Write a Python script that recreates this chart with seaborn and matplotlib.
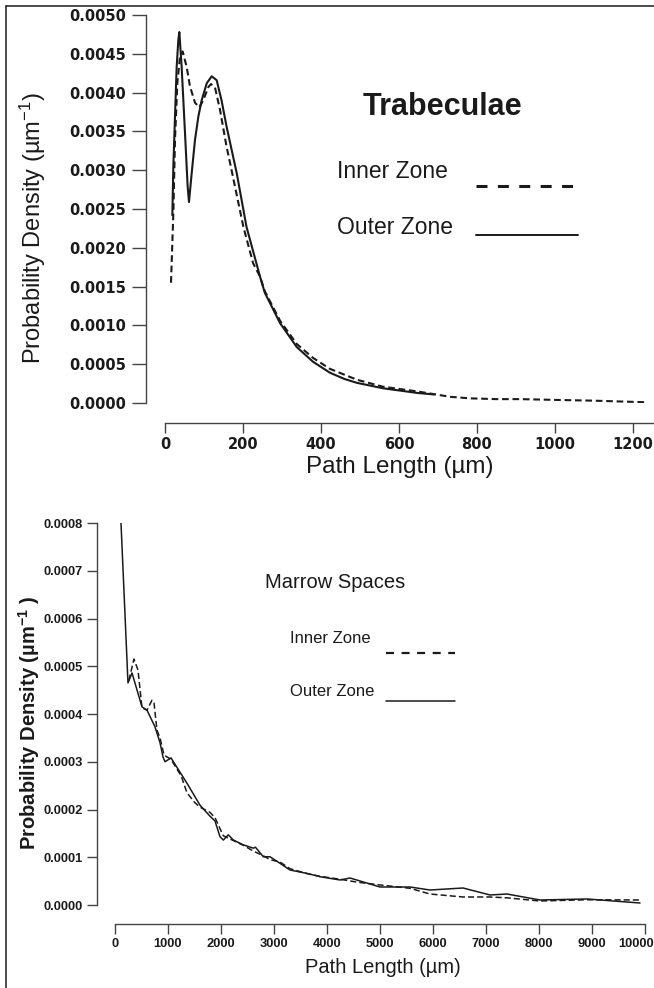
import numpy as np
import pandas as pd
import matplotlib
matplotlib.use("Agg")
import matplotlib.pyplot as plt
import matplotlib.transforms as mtransforms
import seaborn as sns
from matplotlib.ticker import FormatStrFormatter, MultipleLocator
from matplotlib.lines import Line2D

# ---------------- data ----------------
# Trabeculae, path length (um) vs probability density (um^-1)
trab_outer_x = [18.8, 21.4, 25.6, 29.9, 34.2, 36.8, 42.7, 51.3, 58.1, 61.5, 68.4, 76.9,
                85.5, 94, 107, 119.7, 132.5, 145, 158, 184, 209, 243.6, 256, 295, 338,
                380, 423, 460, 492, 559, 646, 690]
trab_outer_y = [0.00242, 0.00305, 0.00369, 0.00433, 0.00468, 0.00478, 0.00433, 0.00348,
                0.00279, 0.00259, 0.00296, 0.00339, 0.00369, 0.00390, 0.00412, 0.00421,
                0.00416, 0.00390, 0.00356, 0.00296, 0.00227, 0.00163, 0.00142, 0.00103,
                0.00072, 0.00053, 0.00039, 0.00031, 0.00026, 0.00019, 0.00013, 0.00011]

trab_inner_x = [15.4, 21.4, 25.6, 31.6, 38.5, 45.3, 55.6, 64, 77, 88, 98, 111, 118, 128,
                141, 158, 167, 201, 226, 243.6, 256, 295, 338, 380, 423, 492, 559, 646,
                731, 782, 850, 910, 1000, 1100, 1230]
trab_inner_y = [0.00155, 0.00245, 0.00339, 0.00412, 0.00446, 0.00453, 0.00433, 0.00408,
                0.00387, 0.00381, 0.00390, 0.00407, 0.00411, 0.00407, 0.00378, 0.00330,
                0.00309, 0.00227, 0.00180, 0.00163, 0.00144, 0.00106, 0.00076, 0.00058,
                0.00044, 0.00030, 0.00021, 0.00015, 0.00008, 0.00006, 0.00005, 0.00005,
                0.00004, 0.00003, 0.00001]

# Marrow spaces
marrow_outer_x = [113, 245, 321, 509, 604, 755, 849, 906, 943, 1057, 1358, 1604, 1792,
                  1887, 1981, 2044, 2138, 2233, 2421, 2610, 2650, 2799, 2925, 3113, 3302,
                  3616, 3868, 4245, 4434, 4560, 5000, 5566, 5943, 6566, 7075, 7396, 8019,
                  8906, 9906]
marrow_outer_y = [0.000800, 0.000465, 0.000486, 0.000415, 0.000408, 0.000373, 0.000340,
                  0.000310, 0.000300, 0.000308, 0.000255, 0.000209, 0.000186, 0.000176,
                  0.000143, 0.000136, 0.000147, 0.000136, 0.000126, 0.000119, 0.000121,
                  0.000101, 0.000101, 0.0000873, 0.0000733, 0.0000663, 0.0000593,
                  0.0000524, 0.0000565, 0.0000524, 0.0000377, 0.0000377, 0.0000314,
                  0.0000356, 0.0000210, 0.0000230, 0.0000105, 0.0000126, 0.0000042]

marrow_inner_x = [260, 358, 434, 509, 604, 698, 736, 792, 849, 925, 1057, 1250, 1358,
                  1500, 1604, 1792, 1887, 1981, 2044, 2138, 2233, 2421, 2610, 2799, 2925,
                  3113, 3302, 3616, 3868, 4245, 4560, 5000, 5566, 5943, 6566, 7075, 7396,
                  8019, 8906, 9906]
marrow_inner_y = [0.000470, 0.000515, 0.000492, 0.000413, 0.000408, 0.000429, 0.000423,
                  0.000366, 0.000350, 0.000314, 0.000305, 0.000270, 0.000235, 0.000215,
                  0.000205, 0.000194, 0.000183, 0.000160, 0.000145, 0.000140, 0.000135,
                  0.000125, 0.000113, 0.000103, 0.000095, 0.000090, 0.000076, 0.000066,
                  0.000060, 0.000054, 0.000048, 0.000042, 0.000035, 0.000023, 0.0000168,
                  0.0000168, 0.0000150, 0.0000084, 0.0000110, 0.0000105]

zone_labels = ["Inner Zone", "Outer Zone"]
top_title = "Trabeculae"
bottom_title = "Marrow Spaces"
top_xticks = [0, 200, 400, 600, 800, 1000, 1200]
bottom_xticks = [0, 1000, 2000, 3000, 4000, 5000, 6000, 7000, 8000, 9000, 10000]

# ---------------- style ----------------
sns.set_style("white")
plt.rcParams["font.family"] = ["Liberation Sans", "DejaVu Sans"]
plt.rcParams["mathtext.default"] = "regular"
INK = "#1a1a1a"

W, H = 654, 988
fig = plt.figure(figsize=(W / 100, H / 100), dpi=100)


def fx(px):
    return px / W


def fy(py):
    return 1 - py / H


def make_df(xi, yi, xo, yo):
    return pd.concat([
        pd.DataFrame({"x": xi, "y": yi, "zone": zone_labels[0]}),
        pd.DataFrame({"x": xo, "y": yo, "zone": zone_labels[1]}),
    ], ignore_index=True)


# ---------------- top panel ----------------
ax1 = fig.add_axes([fx(165), fy(403), fx(489), 388 / H])
df1 = make_df(trab_inner_x, trab_inner_y, trab_outer_x, trab_outer_y)
sns.lineplot(data=df1, x="x", y="y", style="zone", style_order=zone_labels,
             dashes={zone_labels[0]: (3.2, 1.8), zone_labels[1]: ""},
             color=INK, linewidth=1.5, legend=False, estimator=None, ax=ax1)
ax1.set_xlim(0, 1254)
ax1.set_ylim(0, 0.005)
ax1.set_xticks(top_xticks)
ax1.yaxis.set_major_locator(MultipleLocator(0.0005))
ax1.yaxis.set_major_formatter(FormatStrFormatter("%.4f"))
ax1.set_xlabel("")
ax1.set_ylabel("")
for s in ["top", "right"]:
    ax1.spines[s].set_visible(False)
ax1.spines["left"].set_position(("outward", 19 * 0.72))
ax1.spines["bottom"].set_position(("outward", 20 * 0.72))
for s in ["left", "bottom"]:
    ax1.spines[s].set_color("#444444")
    ax1.spines[s].set_linewidth(1.0)
ax1.tick_params(axis="both", direction="out", width=1.0, color="#444444",
                left=True, bottom=True)
ax1.tick_params(axis="y", length=10, pad=4.5)
ax1.tick_params(axis="x", length=7, pad=3)
for lab in ax1.get_xticklabels() + ax1.get_yticklabels():
    lab.set_fontfamily("DejaVu Sans")
    lab.set_fontweight("bold")
    lab.set_fontsize(10.5)
    lab.set_color(INK)

fig.text(fx(33), fy(228), "Probability Density (µm$^{-1}$)", rotation=90,
         ha="center", va="center", fontsize=17, color=INK)
fig.text(fx(400), fy(467), "Path Length (µm)", ha="center", va="center",
         fontsize=17.5, color=INK)
fig.text(fx(363), fy(107), top_title, ha="left", va="center", fontsize=22,
         fontweight="bold", color=INK)
fig.text(fx(337), fy(172), zone_labels[0], ha="left", va="center", fontsize=16.5, color=INK)
fig.text(fx(337), fy(227), zone_labels[1], ha="left", va="center", fontsize=16.5, color=INK)
fig.add_artist(Line2D([fx(476), fx(578)], [fy(186), fy(186)], color=INK, lw=2.2,
                      dashes=(3.6, 3.4)))
fig.add_artist(Line2D([fx(476), fx(578)], [fy(235), fy(235)], color=INK, lw=1.4))

# ---------------- bottom panel ----------------
ax2 = fig.add_axes([fx(115), fy(905), fx(530), 382 / H])
df2 = make_df(marrow_inner_x, marrow_inner_y, marrow_outer_x, marrow_outer_y)
sns.lineplot(data=df2, x="x", y="y", style="zone", style_order=zone_labels,
             dashes={zone_labels[0]: (4, 2), zone_labels[1]: ""},
             color=INK, linewidth=1.1, legend=False, estimator=None, ax=ax2)
ax2.set_xlim(0, 10000)
ax2.set_ylim(0, 0.0008)
ax2.set_xticks(bottom_xticks)
ax2.yaxis.set_major_locator(MultipleLocator(0.0001))
ax2.yaxis.set_major_formatter(FormatStrFormatter("%.4f"))
ax2.set_xlabel("")
ax2.set_ylabel("")
for s in ["top", "right"]:
    ax2.spines[s].set_visible(False)
ax2.spines["left"].set_position(("outward", 18 * 0.72))
ax2.spines["bottom"].set_position(("outward", 19 * 0.72))
for s in ["left", "bottom"]:
    ax2.spines[s].set_color("#444444")
    ax2.spines[s].set_linewidth(1.0)
ax2.tick_params(axis="both", direction="out", length=7, width=1.0, color="#444444",
                pad=3, left=True, bottom=True)
for lab in ax2.get_xticklabels() + ax2.get_yticklabels():
    lab.set_fontweight("bold")
    lab.set_fontsize(9.3)
    lab.set_color(INK)
# keep the last x tick label inside the figure edge
last = ax2.get_xticklabels()[-1]
last.set_transform(last.get_transform() +
                   mtransforms.ScaledTranslation(-9 / 100, 0, fig.dpi_scale_trans))

fig.text(fx(29), fy(723), "Probability Density (µm$^{-1}$ )", rotation=90,
         ha="center", va="center", fontsize=14.5, fontweight="bold", color=INK)
fig.text(fx(383), fy(967), "Path Length (µm)", ha="center", va="center",
         fontsize=14.5, color=INK)
fig.text(fx(265), fy(583), bottom_title, ha="left", va="center", fontsize=14.5,
         color=INK)
fig.text(fx(290), fy(638), zone_labels[0], ha="left", va="center", fontsize=12,
         color=INK)
fig.text(fx(290), fy(692), zone_labels[1], ha="left", va="center", fontsize=12,
         color=INK)
fig.add_artist(Line2D([fx(386), fx(455)], [fy(653), fy(653)], color=INK, lw=1.6,
                      dashes=(3.6, 3.4)))
fig.add_artist(Line2D([fx(386), fx(455)], [fy(701), fy(701)], color=INK, lw=1.1))

# ---------------- frame lines (top and left edges) ----------------
fig.add_artist(Line2D([fx(6), 1.0], [fy(6), fy(6)], color=INK, lw=1.1))
fig.add_artist(Line2D([fx(6), fx(6)], [fy(6), 0.0], color=INK, lw=1.1))

fig.savefig("out.png", dpi=100)
